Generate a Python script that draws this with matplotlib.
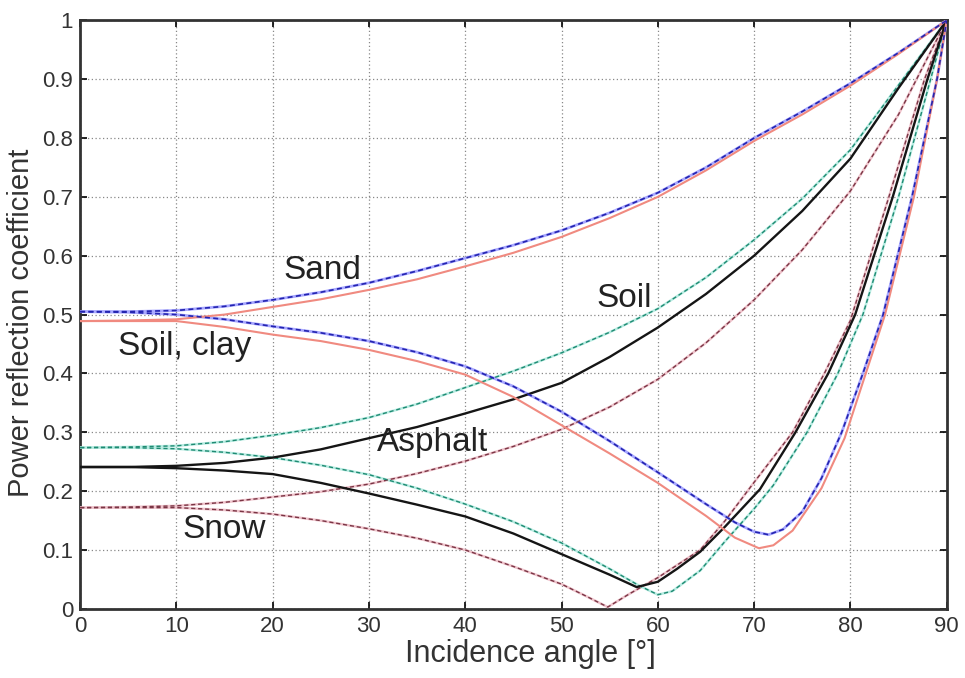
import matplotlib
matplotlib.use("Agg")
import matplotlib.pyplot as plt

plt.rcParams['font.family'] = ['Liberation Sans', 'DejaVu Sans']

# Sand (blue) - perpendicular and parallel polarisation
sand_te_ang = [0, 5, 10, 15, 20, 25, 30, 35, 40, 45, 50, 55, 60, 65, 70, 75, 80, 85, 90]
sand_te = [0.505, 0.505, 0.507, 0.514, 0.525, 0.538, 0.554, 0.574, 0.596, 0.618, 0.643,
           0.673, 0.707, 0.750, 0.800, 0.845, 0.893, 0.945, 1.0]
sand_tm_ang = [0, 5, 10, 15, 20, 25, 30, 35, 40, 45, 50, 55, 60, 65, 68, 70, 71.5, 73, 75,
               77, 79.1, 81.3, 83.4, 86.4, 89, 90]
sand_tm = [0.505, 0.504, 0.500, 0.492, 0.480, 0.469, 0.455, 0.436, 0.412, 0.378, 0.335,
           0.285, 0.232, 0.178, 0.147, 0.131, 0.126, 0.135, 0.165, 0.222, 0.300, 0.400,
           0.500, 0.700, 0.900, 1.0]

# Soil, clay (red)
clay_te_ang = [0, 5, 10, 15, 20, 25, 30, 35, 40, 45, 50, 55, 60, 65, 70, 75, 80, 85, 90]
clay_te = [0.489, 0.490, 0.492, 0.500, 0.513, 0.526, 0.542, 0.560, 0.582, 0.605, 0.632,
           0.664, 0.700, 0.745, 0.795, 0.840, 0.889, 0.943, 1.0]
clay_tm_ang = [0, 5, 10, 15, 20, 25, 30, 35, 40, 45, 50, 55, 60, 65, 68, 70.5, 72, 74,
               77, 79.4, 81.5, 83.6, 86.6, 89, 90]
clay_tm = [0.489, 0.489, 0.489, 0.479, 0.466, 0.455, 0.440, 0.421, 0.398, 0.360, 0.312,
           0.264, 0.214, 0.158, 0.121, 0.103, 0.108, 0.133, 0.205, 0.290, 0.395, 0.500,
           0.700, 0.900, 1.0]

# Asphalt (green)
asph_te_ang = [0, 5, 10, 15, 20, 25, 30, 35, 40, 45, 50, 55, 60, 65, 70, 75, 80, 85, 90]
asph_te = [0.274, 0.275, 0.277, 0.284, 0.295, 0.308, 0.325, 0.348, 0.376, 0.404, 0.435,
           0.470, 0.510, 0.563, 0.627, 0.697, 0.780, 0.890, 1.0]
asph_tm_ang = [0, 5, 10, 15, 20, 25, 30, 35, 40, 45, 50, 55, 58, 60, 61.5, 64.4, 67, 70,
               72, 75.5, 78.7, 81.3, 85, 88, 90]
asph_tm = [0.274, 0.274, 0.272, 0.266, 0.257, 0.244, 0.228, 0.205, 0.178, 0.148, 0.112,
           0.068, 0.040, 0.024, 0.030, 0.065, 0.115, 0.170, 0.210, 0.300, 0.400, 0.500,
           0.700, 0.880, 1.0]

# Soil (black)
soil_te_ang = [0, 5, 10, 15, 20, 25, 30, 35, 40, 45, 50, 55, 60, 65, 70, 75, 80, 85, 90]
soil_te = [0.241, 0.241, 0.243, 0.248, 0.257, 0.271, 0.290, 0.309, 0.332, 0.356, 0.384,
           0.428, 0.478, 0.535, 0.600, 0.676, 0.765, 0.885, 1.0]
soil_tm_ang = [0, 5, 10, 15, 20, 25, 30, 35, 40, 45, 50, 55, 57.8, 60, 62, 64.4, 67, 70.6,
               74.3, 77.7, 80.5, 84.4, 88, 90]
soil_tm = [0.241, 0.241, 0.239, 0.235, 0.229, 0.214, 0.196, 0.177, 0.157, 0.128, 0.093,
           0.058, 0.037, 0.046, 0.068, 0.097, 0.140, 0.203, 0.300, 0.400, 0.500, 0.700,
           0.900, 1.0]

# Snow (brown)
snow_te_ang = [0, 5, 10, 15, 20, 25, 30, 35, 40, 45, 50, 55, 60, 65, 70, 75, 80, 85, 90]
snow_te = [0.172, 0.173, 0.175, 0.181, 0.190, 0.199, 0.212, 0.230, 0.251, 0.276, 0.305,
           0.343, 0.390, 0.452, 0.525, 0.610, 0.710, 0.840, 1.0]
snow_tm_ang = [0, 5, 10, 15, 20, 25, 30, 35, 40, 45, 50, 52.5, 54.8, 57, 60, 64.4, 67,
               70, 74, 77.3, 80, 84, 87.7, 90]
snow_tm = [0.172, 0.172, 0.172, 0.168, 0.161, 0.150, 0.136, 0.120, 0.100, 0.072, 0.042,
           0.022, 0.003, 0.025, 0.053, 0.100, 0.150, 0.215, 0.300, 0.400, 0.490, 0.700,
           0.900, 1.0]

labels = ["Sand", "Soil, clay", "Soil", "Asphalt", "Snow"]
label_x = [21.1, 3.9, 53.6, 30.8, 10.6]
label_y = [0.575, 0.445, 0.528, 0.282, 0.134]

fig = plt.figure(figsize=(9.65, 6.78), dpi=100)
ax = fig.add_axes([0.083, 0.102, 0.898, 0.868])


def dashed(xs, ys, light, dark, lw=1.2):
    ax.plot(xs, ys, color=light, lw=lw + 0.8, solid_joinstyle='round', zorder=3)
    ax.plot(xs, ys, color=dark, lw=lw, ls=(0, (3, 2)), zorder=4)


for xs, ys in [(snow_te_ang, snow_te), (snow_tm_ang, snow_tm)]:
    dashed(xs, ys, '#efc4cc', '#7a3545', 1.0)
for xs, ys in [(asph_te_ang, asph_te), (asph_tm_ang, asph_tm)]:
    dashed(xs, ys, '#b8ece2', '#1f8a72', 1.0)
for xs, ys in [(soil_te_ang, soil_te), (soil_tm_ang, soil_tm)]:
    ax.plot(xs, ys, color='#151515', lw=1.7, solid_joinstyle='round', zorder=4)
for xs, ys in [(clay_te_ang, clay_te), (clay_tm_ang, clay_tm)]:
    ax.plot(xs, ys, color='#f08a80', lw=1.5, solid_joinstyle='round', zorder=4)
for xs, ys in [(sand_te_ang, sand_te), (sand_tm_ang, sand_tm)]:
    dashed(xs, ys, '#a8a8ff', '#2424b0', 1.2)

for t, x, y in zip(labels, label_x, label_y):
    ax.text(x, y, t, fontsize=24, color='#222222', ha='left', va='center', zorder=6)

ax.set_xlim(0, 90)
ax.set_ylim(0, 1)
ax.set_xticks(range(0, 91, 10))
ax.set_yticks([i / 10 for i in range(11)])
ax.set_yticklabels(["0", "0.1", "0.2", "0.3", "0.4", "0.5", "0.6", "0.7", "0.8", "0.9", "1"])
ax.grid(True, color='#888888', ls=(0, (1, 2)), lw=0.9)
ax.tick_params(direction='in', length=5, width=1.2, top=True, right=True,
               labelsize=16, labelcolor='#333333', pad=5)
for sp in ax.spines.values():
    sp.set_linewidth(2)
    sp.set_color('#333333')

ax.set_xlabel("Incidence angle [°]", fontsize=22, color='#333333')
ax.xaxis.set_label_coords(0.52, -0.052)
ax.set_ylabel("Power reflection coefficient", fontsize=21, color='#333333', labelpad=4)
ax.yaxis.set_label_coords(-0.052, 0.486)

fig.savefig("out.png", dpi=100)
